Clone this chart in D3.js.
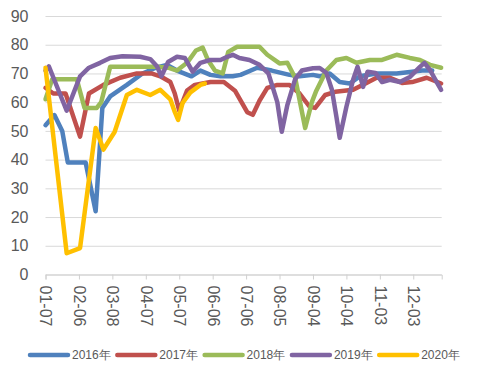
<!DOCTYPE html>
<html>
<head>
<meta charset="utf-8">
<script src="https://cdn.jsdelivr.net/npm/d3@7"></script>
<style>
  html, body { margin: 0; padding: 0; background: #fff; }
  svg { display: block; font-family: "Liberation Sans", Arial, sans-serif; }
</style>
</head>
<body>
<svg id="chart" width="477" height="375"></svg>
<script>
// ---- data ----
const seriesNames = ["2016年", "2017年", "2018年", "2019年", "2020年"];
const xTickLabels = ["01-07", "02-06", "03-08", "04-07", "05-07", "06-06", "07-06", "08-05", "09-04", "10-04", "11-03", "12-03"];
const yTickValues = [0, 10, 20, 30, 40, 50, 60, 70, 80, 90];
const xDomainLabels = ["01-07", "12-28"];

const s2016 = [["01-07",52],["01-15",55.5],["01-22",50],["01-27",39],["02-12",39],["02-21",22],["02-27",58],["03-06",62],["03-21",66],["04-04",70],["04-16",72],["04-26",73],["05-05",71],["05-18",69],["05-26",71],["06-04",69.5],["06-13",69],["06-24",69],["07-01",69.5],["07-16",72],["07-29",71],["08-14",69.5],["08-23",69],["09-04",69.5],["09-10",69],["09-19",70],["09-28",67],["10-07",66.5],["10-16",69],["10-31",70],["11-18",70],["11-30",70.5],["12-11",71],["12-20",71]];
const s2017 = [["01-07",65],["01-14",63],["01-25",63],["02-07",48],["02-15",63],["02-28",66],["03-15",68.5],["03-30",70],["04-12",70],["04-20",69],["04-29",67],["05-03",63],["05-07",57],["05-14",64],["05-21",66],["06-04",67],["06-16",67],["06-26",64],["07-07",56.5],["07-12",55.6],["07-18",60.5],["07-25",65],["08-03",66],["08-14",66],["08-23",63],["09-01",58.4],["09-06",58],["09-15",62.5],["09-24",63.6],["10-10",64.3],["10-22",66.7],["10-31",68.5],["11-12",68.5],["11-23",66.7],["12-02",67],["12-15",68.5],["12-28",66.5]];
const s2018 = [["01-07",61],["01-13",68],["02-04",68],["02-11",58],["02-22",58],["02-26",60],["03-06",72.3],["04-17",72.3],["04-27",72],["05-05",71],["05-14",73.7],["05-22",78],["05-28",79],["06-02",74.5],["06-08",71],["06-15",70],["06-20",77.5],["06-28",79.3],["07-18",79.3],["07-25",76.5],["08-05",73.5],["08-12",73.7],["08-19",68.5],["08-28",51],["09-03",60],["09-07",64],["09-16",71],["09-25",74.7],["10-04",75.4],["10-13",73.7],["10-25",74.7],["11-05",74.7],["11-18",76.5],["11-30",75.4],["12-09",74.7],["12-18",73],["12-28",72]];
const s2019 = [["01-07",71],["01-10",72.5],["01-26",57],["02-07",69],["02-15",72],["02-25",73.7],["03-06",75.4],["03-17",76],["04-02",75.8],["04-11",75],["04-17",72.5],["04-21",69],["04-27",74],["05-05",75.8],["05-12",75.4],["05-19",70.6],["05-26",73.7],["06-04",74.7],["06-13",74.7],["06-19",75.8],["06-24",76.5],["06-30",75.4],["07-09",74.7],["07-18",73],["07-26",70],["08-03",60],["08-07",49.7],["08-12",59],["08-19",68],["08-25",71],["09-04",71.8],["09-10",71.9],["09-16",70.2],["09-21",64.3],["09-25",55],["09-28",47.6],["10-04",58.4],["10-10",67.8],["10-14",72.3],["10-19",65.3],["10-23",70.6],["10-30",70.2],["11-05",67],["11-12",67.8],["11-21",67],["11-30",68.8],["12-09",72.3],["12-13",73.7],["12-18",71.2],["12-24",67],["12-28",64.3]];
const s2020 = [["01-07",72],["01-26",7.4],["02-07",9.2],["02-21",51],["02-28",43.5],["03-10",49.6],["03-21",62.5],["03-30",64.3],["04-11",62.5],["04-20",64.3],["04-29",61],["05-03",56.6],["05-06",53.8],["05-10",59.7],["05-17",63.4],["05-26",66],["05-30",66.5]];
const allSeries = [s2016, s2017, s2018, s2019, s2020];

// ---- style ----
const colors = ["#4F81BD", "#C0504D", "#9BBB59", "#8064A2", "#FFC000"];
const margin = { left: 45.5, right: 441.7, top: 16, bottom: 274.5 };

const parseMD = s => d3.utcParse("%Y-%m-%d")("2019-" + s);
const svg = d3.select("#chart");

const x = d3.scaleUtc()
  .domain([parseMD(xDomainLabels[0]), d3.utcHour.offset(parseMD(xDomainLabels[1]), 12)])
  .range([margin.left, margin.right]);
const y = d3.scaleLinear().domain([0, 90]).range([margin.bottom, margin.top]);

// gridlines + y labels
const yAxis = d3.axisLeft(y)
  .tickValues(yTickValues)
  .tickSize(-(margin.right - margin.left))
  .tickPadding(17)
  .tickFormat(d3.format("d"));
const gy = svg.append("g").attr("transform", `translate(${margin.left},0)`).call(yAxis);
gy.select(".domain").remove();
gy.selectAll(".tick line").attr("stroke", "#d9d9d9").attr("stroke-width", 1);
gy.selectAll(".tick text")
  .attr("fill", "#595959")
  .style("font-size", "16px");

// x axis
const xAxis = d3.axisBottom(x)
  .tickValues(xTickLabels.map(parseMD))
  .tickSize(5)
  .tickFormat(d3.utcFormat("%m-%d"));
const gx = svg.append("g").attr("transform", `translate(0,${margin.bottom})`).call(xAxis);
gx.select(".domain").attr("stroke", "#d0d0d0");
gx.selectAll(".tick line").attr("stroke", "#d0d0d0");
gx.selectAll(".tick text")
  .attr("fill", "#595959")
  .style("font-size", "16px")
  .attr("transform", "rotate(90)")
  .attr("x", 11)
  .attr("y", 0)
  .attr("dy", "0.35em")
  .attr("text-anchor", "start");

// lines
const line = d3.line()
  .x(d => x(parseMD(d[0])))
  .y(d => y(d[1]));

svg.append("g").selectAll("path")
  .data(allSeries)
  .join("path")
  .attr("d", line)
  .attr("fill", "none")
  .attr("stroke", (d, i) => colors[i])
  .attr("stroke-width", 4.5)
  .attr("stroke-linejoin", "round")
  .attr("stroke-linecap", "round");

// legend
const legendStartX = 28, legendStep = 87.3, legendY = 355, legendLine = 42;
const lg = svg.append("g").selectAll("g")
  .data(seriesNames)
  .join("g")
  .attr("transform", (d, i) => `translate(${legendStartX + i * legendStep},${legendY})`);
lg.append("line")
  .attr("x1", 2).attr("x2", legendLine - 2)
  .attr("y1", 0).attr("y2", 0)
  .attr("stroke", (d, i) => colors[i])
  .attr("stroke-width", 4.5)
  .attr("stroke-linecap", "round");
lg.append("text")
  .attr("x", legendLine + 2)
  .attr("y", 0)
  .attr("dy", "0.35em")
  .attr("fill", "#595959")
  .style("font-size", "12px")
  .text(d => d);
</script>
</body>
</html>
